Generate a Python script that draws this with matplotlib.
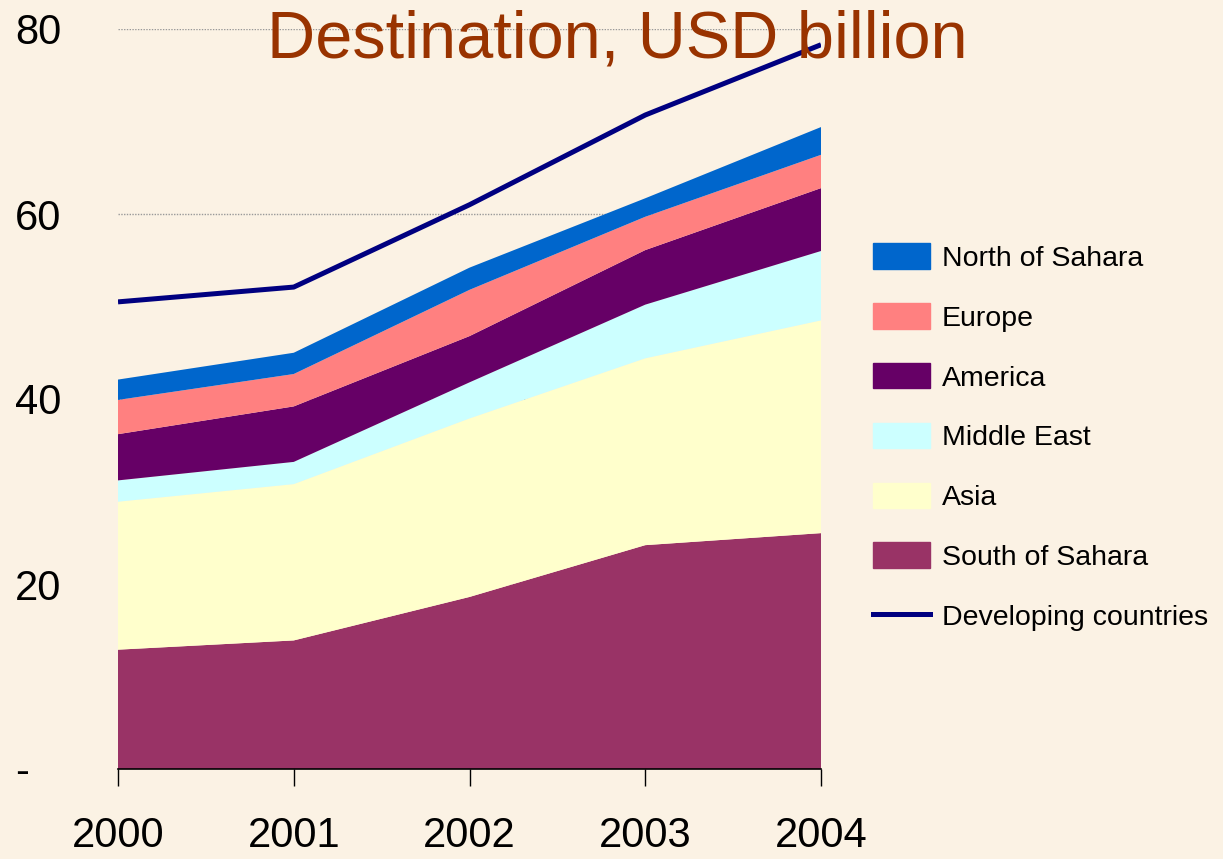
import matplotlib.pyplot as plt
import numpy as np
from matplotlib.patches import Patch
from matplotlib.lines import Line2D

plt.rcParams['font.family'] = ['Liberation Sans', 'DejaVu Sans']

years = [2000, 2001, 2002, 2003, 2004]
south_of_sahara = [12.9, 13.9, 18.6, 24.2, 25.5]
asia = [16.0, 16.9, 19.3, 20.2, 23.0]
middle_east = [2.3, 2.4, 3.9, 5.8, 7.5]
america = [5.0, 6.0, 5.0, 5.9, 6.8]
europe = [3.7, 3.5, 5.0, 3.6, 3.6]
north_of_sahara = [2.2, 2.3, 2.4, 2.0, 3.0]
developing = [50.5, 52.1, 61.0, 70.7, 78.3]

names = ['South of Sahara', 'Asia', 'Middle East', 'America', 'Europe', 'North of Sahara']
colors = ['#993366', '#FFFFCC', '#CCFFFF', '#660066', '#FF8080', '#0066CC']
line_color = '#000080'
bg = '#FBF2E4'

fig = plt.figure(figsize=(12.23, 8.59), dpi=100, facecolor=bg)
ax = fig.add_axes([118 / 1223, 90 / 859, 703 / 1223, 740 / 859])
ax.set_facecolor(bg)

# gridlines sit behind the areas, so only 60 and 80 show
for g in [20, 40, 60, 80]:
    ax.axhline(g, color='#999999', lw=1, ls=(0, (1, 1)), zorder=0)

ax.stackplot(years, south_of_sahara, asia, middle_east, america, europe, north_of_sahara,
             colors=colors, linewidth=0, zorder=2)
ax.plot(years, developing, color=line_color, lw=3.6, zorder=3, solid_capstyle='butt')

ax.set_xlim(2000, 2004)
ax.set_ylim(0, 80)
ax.set_xticks(years)
ax.set_xticklabels([str(y) for y in years], fontsize=30)
ax.set_yticks([0, 20, 40, 60, 80])
ax.set_yticklabels(['-', '20', '40', '60', '80'], fontsize=30, ha='left')
ax.tick_params(axis='y', length=0, pad=74)
ax.tick_params(axis='x', length=12, width=1, direction='out', pad=22, color='black')
for s in ['top', 'right', 'left']:
    ax.spines[s].set_visible(False)
ax.spines['bottom'].set_linewidth(1.2)
ax.spines['bottom'].set_zorder(4)

fig.text(617 / 1223, (859 - 58) / 859, 'Destination, USD billion', fontsize=48,
         color='#993300', ha='center', va='baseline')

handles = [Patch(color=c, label=n) for n, c in zip(names, colors)][::-1]
handles.append(Line2D([], [], color=line_color, lw=3.6, label='Developing countries'))
fig.legend(handles=handles, loc='upper left', bbox_to_anchor=(862 / 1223, (859 - 232) / 859),
           frameon=False, fontsize=20.5, handlelength=2.0, handleheight=1.0,
           handletextpad=0.4, labelspacing=1.1, borderaxespad=0)

fig.savefig('out.png', dpi=100, facecolor=bg)
